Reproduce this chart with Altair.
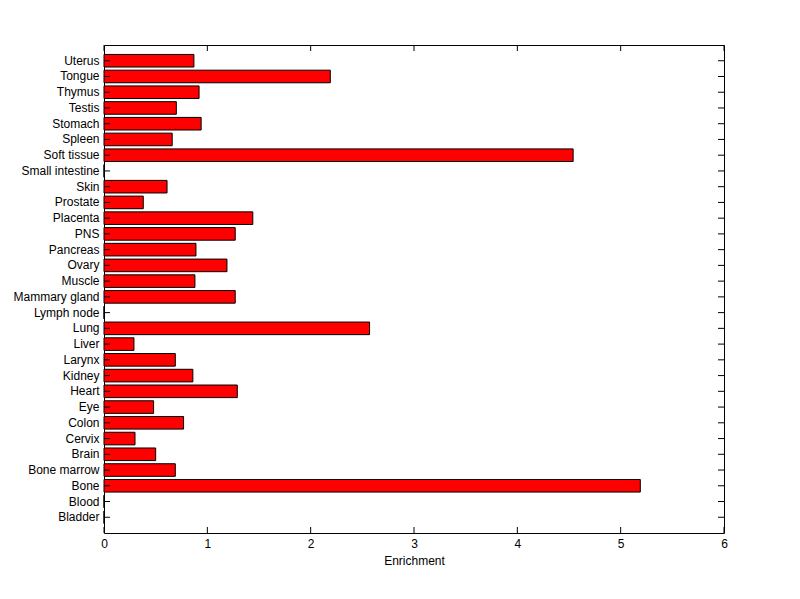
import altair as alt
import pandas as pd

# categories listed bottom to top
tissues = ["Bladder", "Blood", "Bone", "Bone marrow", "Brain", "Cervix", "Colon", "Eye",
           "Heart", "Kidney", "Larynx", "Liver", "Lung", "Lymph node", "Mammary gland",
           "Muscle", "Ovary", "Pancreas", "PNS", "Placenta", "Prostate", "Skin",
           "Small intestine", "Soft tissue", "Spleen", "Stomach", "Testis", "Thymus",
           "Tongue", "Uterus"]
enrichment = [0.0, 0.0, 5.19, 0.69, 0.50, 0.30, 0.77, 0.48,
              1.29, 0.86, 0.69, 0.29, 2.57, 0.0, 1.27,
              0.88, 1.19, 0.89, 1.27, 1.44, 0.38, 0.61,
              0.0, 4.54, 0.66, 0.94, 0.70, 0.92,
              2.19, 0.87]
x_ticks = [0, 1, 2, 3, 4, 5, 6]

W, H = 620, 488
FONT = "Liberation Sans"

df = pd.DataFrame({"tissue": tissues, "enrichment": enrichment})
tick_df = pd.DataFrame({"v": x_ticks})
order = list(reversed(tissues))

yscale = alt.Scale(domain=order, paddingInner=0.2, paddingOuter=0.6)
xscale = alt.Scale(domain=[0, 6], nice=False)

bars = alt.Chart(df).mark_bar(color="#ff0000", stroke="black", strokeWidth=1).encode(
    y=alt.Y("tissue:N", sort=order, scale=yscale,
            axis=alt.Axis(title=None, ticks=False, domain=False, labelPadding=5,
                          labelFont=FONT, labelFontSize=12, labelColor="black")),
    x=alt.X("enrichment:Q", scale=xscale,
            axis=alt.Axis(title="Enrichment", values=x_ticks, ticks=False, domain=False,
                          grid=False, labelPadding=5, labelFlush=False, labelFont=FONT,
                          labelFontSize=12, labelColor="black", titleFont=FONT,
                          titleFontSize=12, titleFontWeight="normal", titleColor="black",
                          titlePadding=6, format="d")),
)

ytick_left = alt.Chart(df).mark_rule(color="black", strokeWidth=1).encode(
    y=alt.Y("tissue:N", sort=order, scale=yscale),
    x=alt.value(0), x2=alt.value(6))
ytick_right = alt.Chart(df).mark_rule(color="black", strokeWidth=1).encode(
    y=alt.Y("tissue:N", sort=order, scale=yscale),
    x=alt.value(W - 6), x2=alt.value(W))
xtick_bottom = alt.Chart(tick_df).mark_rule(color="black", strokeWidth=1).encode(
    x=alt.X("v:Q", scale=xscale), y=alt.value(H - 6), y2=alt.value(H))
xtick_top = alt.Chart(tick_df).mark_rule(color="black", strokeWidth=1).encode(
    x=alt.X("v:Q", scale=xscale), y=alt.value(0), y2=alt.value(6))

chart = alt.layer(bars, ytick_left, ytick_right, xtick_bottom, xtick_top).properties(
    width=W, height=H,
    background="white",
    autosize=alt.AutoSizeParams(type="none"),
    padding={"left": 96, "top": 37, "right": 68, "bottom": 58},
).configure_view(stroke="black", strokeWidth=1)

chart.save("out.html", embed_options={"renderer": "svg", "actions": False})
